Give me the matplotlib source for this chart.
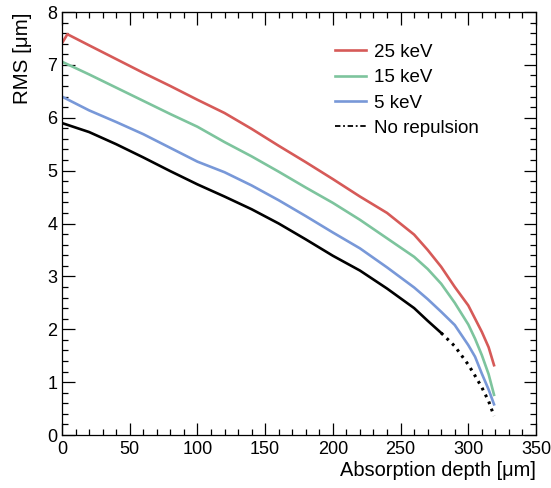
import matplotlib
matplotlib.use("Agg")
import matplotlib.pyplot as plt
from matplotlib.lines import Line2D
from matplotlib.ticker import MultipleLocator

plt.rcParams['font.family'] = ['Liberation Sans', 'DejaVu Sans']

# absorption depth [um] and RMS [um]
depth_red = [0, 4, 20, 40, 60, 80, 100, 120, 140, 160, 180, 200, 220, 240, 260, 270, 280, 290, 300, 305, 310, 315, 319]
rms_25kev = [7.41, 7.58, 7.37, 7.11, 6.85, 6.60, 6.34, 6.09, 5.79, 5.47, 5.16, 4.84, 4.51, 4.20, 3.79, 3.50, 3.18, 2.80, 2.45, 2.20, 1.95, 1.66, 1.32]

depth = [0, 20, 40, 60, 80, 100, 120, 140, 160, 180, 200, 220, 240, 260, 270, 280, 290, 300, 305, 310, 315, 319]
rms_15kev = [7.06, 6.82, 6.57, 6.32, 6.07, 5.83, 5.54, 5.27, 4.98, 4.68, 4.39, 4.07, 3.72, 3.37, 3.14, 2.86, 2.50, 2.09, 1.82, 1.51, 1.15, 0.76]
rms_5kev = [6.40, 6.14, 5.92, 5.69, 5.43, 5.17, 4.97, 4.72, 4.44, 4.14, 3.83, 3.53, 3.17, 2.79, 2.57, 2.33, 2.08, 1.70, 1.48, 1.16, 0.86, 0.58]
rms_norep = [5.90, 5.73, 5.50, 5.25, 4.99, 4.74, 4.51, 4.27, 4.00, 3.70, 3.39, 3.11, 2.77, 2.40, 2.16, 1.93, 1.68, 1.33, 1.12, 0.90, 0.64, 0.36]

red = '#d65a58'
green = '#7dc49d'
blue = '#7898d8'

fig = plt.figure(figsize=(5.51, 4.88), dpi=100)
ax = fig.add_axes([0.1125, 0.1086, 0.8603, 0.8668])

ax.plot(depth_red, rms_25kev, color=red, lw=1.9)
ax.plot(depth, rms_15kev, color=green, lw=1.9)
ax.plot(depth, rms_5kev, color=blue, lw=1.9)

# no-repulsion curve looks solid until the steep tail where the dashes open up
n_solid = depth.index(280) + 1
ax.plot(depth[:n_solid], rms_norep[:n_solid], color='black', lw=1.9)
ax.plot(depth[n_solid - 1:], rms_norep[n_solid - 1:], color='black', lw=2.2,
        linestyle=(0, (0.9, 1.6)))

ax.set_xlim(0, 350)
ax.set_ylim(0, 8)
ax.xaxis.set_major_locator(MultipleLocator(50))
ax.xaxis.set_minor_locator(MultipleLocator(10))
ax.yaxis.set_major_locator(MultipleLocator(1))
ax.yaxis.set_minor_locator(MultipleLocator(0.2))
ax.tick_params(which='both', direction='in', top=True, right=True, labelsize=13, colors='black')
ax.tick_params(which='major', length=9, width=0.9)
ax.tick_params(which='minor', length=4.5, width=0.9)
ax.tick_params(axis='x', pad=4)
for s in ax.spines.values():
    s.set_linewidth(0.9)

ax.set_xlabel('Absorption depth [μm]', fontsize=14.4, ha='right')
ax.xaxis.set_label_coords(1.0, -0.062)
ax.set_ylabel('RMS [μm]', fontsize=14.8, loc='top', labelpad=11)

handles = [
    Line2D([], [], color=red, lw=1.9),
    Line2D([], [], color=green, lw=1.9),
    Line2D([], [], color=blue, lw=1.9),
    Line2D([], [], color='black', lw=1.3, linestyle=(0, (3, 1.5, 1, 1.5))),
]
labels = ['25 keV', '15 keV', '5 keV', 'No repulsion']
ax.legend(handles, labels, loc='upper left', bbox_to_anchor=(0.541, 0.965), frameon=False,
          fontsize=13.5, handlelength=1.65, handletextpad=0.4, labelspacing=0.44)

fig.savefig('out.png', dpi=100)
